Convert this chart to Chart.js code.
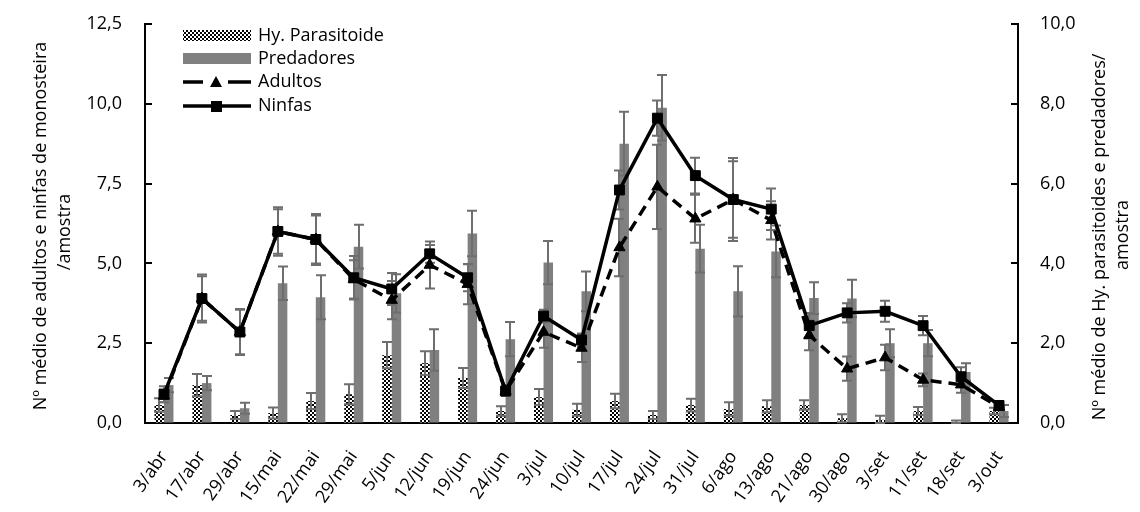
<!DOCTYPE html>
<html>
<head>
<meta charset="utf-8">
<script src="https://cdn.jsdelivr.net/npm/chart.js@4.4.1/dist/chart.umd.min.js"></script>
<style>
  html, body { margin: 0; padding: 0; background: #fff; }
  #wrap { width: 1140px; height: 512px; position: relative; }
</style>
</head>
<body>
<div id="wrap"><canvas id="c" width="1140" height="512"></canvas></div>
<script>
// Sampling dates
const categories = ['3/abr','17/abr','29/abr','15/mai','22/mai','29/mai','5/jun','12/jun','19/jun','24/jun','3/jul','10/jul','17/jul','24/jul','31/jul','6/ago','13/ago','21/ago','30/ago','3/set','11/set','18/set','3/out'];

// Monosteira per sample (left axis)
const ninfas     = [0.9, 3.9, 2.85, 6.0, 5.75, 4.55, 4.2, 5.3, 4.55, 1.0, 3.35, 2.6, 7.3, 9.55, 7.75, 7.0, 6.7, 3.05, 3.45, 3.5, 3.05, 1.45, 0.55];
const ninfasErr  = [0.25, 0.75, 0.72, 0.76, 0.8, 0.68, 0.5, 0.28, 0.42, 0.15, 0.2, 0.2, 0.61, 0.55, 0.56, 1.3, 0.65, 0.4, 0.3, 0.33, 0.3, 0.3, 0.1];
const adultos    = [0.85, 3.9, 2.85, 6.0, 5.75, 4.5, 3.85, 4.95, 4.35, 1.0, 2.85, 2.35, 5.5, 7.4, 6.4, 7.0, 6.35, 2.75, 1.7, 2.05, 1.35, 1.2, 0.5];
const adultosErr = [0.2, 0.7, 0.7, 0.7, 0.75, 0.6, 0.6, 0.74, 0.63, 0.15, 0.49, 0.44, 0.9, 1.32, 0.75, 1.2, 0.6, 0.47, 0.38, 0.4, 0.2, 0.25, 0.1];

// Natural enemies per sample (right axis)
const parasitoide    = [0.45, 0.95, 0.2, 0.25, 0.55, 0.72, 1.7, 1.5, 1.13, 0.3, 0.65, 0.33, 0.55, 0.2, 0.45, 0.35, 0.42, 0.45, 0.12, 0.08, 0.3, 0.03, 0.3];
const parasitoideErr = [0.17, 0.28, 0.1, 0.14, 0.2, 0.25, 0.33, 0.3, 0.25, 0.12, 0.2, 0.15, 0.18, 0.1, 0.16, 0.17, 0.15, 0.12, 0.1, 0.1, 0.1, 0.03, 0.08];
const predadores     = [0.95, 1.0, 0.37, 3.5, 3.15, 4.42, 3.25, 1.83, 4.75, 2.1, 4.02, 3.3, 7.0, 7.9, 4.37, 3.3, 4.3, 3.13, 3.12, 2.0, 2.0, 1.28, 0.3];
const predadoresErr  = [0.18, 0.18, 0.14, 0.42, 0.55, 0.55, 0.48, 0.52, 0.57, 0.43, 0.54, 0.5, 0.8, 0.82, 0.6, 0.63, 0.65, 0.4, 0.47, 0.35, 0.33, 0.22, 0.15];

// Axis ranges and titles
const leftTicks  = { min: 0, max: 12.5, step: 2.5 };
const rightTicks = { min: 0, max: 10, step: 2 };
const leftTitle  = ['Nº médio de adultos e ninfas de monosteira', '/amostra'];
const rightTitle = ['Nº médio de Hy. parasitoides e predadores/', 'amostra'];

const FONT = '"Open Sans", "Liberation Sans", sans-serif';
const FONT_SIZE = 18;

// checkerboard fill for the parasitoid bars
function makeChecker() {
  const c = document.createElement('canvas');
  c.width = 4; c.height = 4;
  const g = c.getContext('2d');
  g.fillStyle = '#fff'; g.fillRect(0, 0, 4, 4);
  g.fillStyle = '#000';
  g.fillRect(0, 0, 2, 2);
  g.fillRect(2, 2, 2, 2);
  return g.createPattern(c, 'repeat');
}
const checker = makeChecker();

const fmt = v => v.toFixed(1).replace('.', ',');

function drawErrors(chart, meta, errs) {
  const ctx = chart.ctx;
  const ds = chart.data.datasets[meta.index];
  const scale = chart.scales[meta.yAxisID];
  ctx.save();
  ctx.strokeStyle = '#6e6e6e';
  ctx.lineWidth = 2;
  meta.data.forEach((el, i) => {
    const v = ds.data[i], e = errs[i];
    if (v == null || e == null) return;
    const x = Math.round(el.x);
    const yT = scale.getPixelForValue(v + e);
    const yB = scale.getPixelForValue(Math.max(v - e, 0));
    ctx.beginPath();
    ctx.moveTo(x, yT); ctx.lineTo(x, yB);
    ctx.moveTo(x - 5, yT); ctx.lineTo(x + 5, yT);
    ctx.moveTo(x - 5, yB); ctx.lineTo(x + 5, yB);
    ctx.stroke();
  });
  ctx.restore();
}

const errorBars = {
  id: 'errorBars',
  afterDatasetDraw(chart, args) {
    const ds = chart.data.datasets[args.index];
    if (ds.type === 'bar') drawErrors(chart, args.meta, ds.errors);
  },
  beforeDatasetDraw(chart, args) {
    // line error bars sit under both line series
    if (chart.data.datasets[args.index].label === 'Adultos') {
      chart.data.datasets.forEach((d, i) => {
        if (d.type === 'line') drawErrors(chart, chart.getDatasetMeta(i), d.errors);
      });
    }
  }
};

const axisDecor = {
  id: 'axisDecor',
  afterDraw(chart) {
    const ctx = chart.ctx;
    const { y, y1 } = chart.scales;
    ctx.save();
    ctx.strokeStyle = '#000';
    ctx.lineWidth = 2;
    // inward tick marks
    y.ticks.forEach(t => {
      const p = Math.round(y.getPixelForValue(t.value));
      ctx.beginPath(); ctx.moveTo(y.right, p); ctx.lineTo(y.right + 7, p); ctx.stroke();
    });
    y1.ticks.forEach(t => {
      const p = Math.round(y1.getPixelForValue(t.value));
      ctx.beginPath(); ctx.moveTo(y1.left, p); ctx.lineTo(y1.left - 7, p); ctx.stroke();
    });
    // axis titles, both reading bottom to top
    ctx.fillStyle = '#000';
    ctx.font = FONT_SIZE + 'px ' + FONT;
    ctx.textAlign = 'center';
    ctx.textBaseline = 'middle';
    const drawV = (text, x, yc) => {
      ctx.save(); ctx.translate(x, yc); ctx.rotate(-Math.PI / 2);
      ctx.fillText(text, 0, 0); ctx.restore();
    };
    drawV(leftTitle[0], 41, 226);
    drawV(leftTitle[1], 65, 232);
    drawV(rightTitle[0], 1100, 237);
    drawV(rightTitle[1], 1123, 235);

    // legend
    const lx0 = 183, lx1 = 251, tx = 258;
    ctx.textAlign = 'left';
    ctx.fillStyle = checker;
    ctx.fillRect(lx0, 30, lx1 - lx0, 11);
    ctx.fillStyle = '#808080';
    ctx.fillRect(lx0, 53, lx1 - lx0, 11);
    ctx.strokeStyle = '#000';
    ctx.lineWidth = 3.5;
    ctx.beginPath(); ctx.moveTo(lx0, 82); ctx.lineTo(203, 82); ctx.moveTo(228, 82); ctx.lineTo(lx1, 82); ctx.stroke();
    ctx.fillStyle = '#000';
    ctx.beginPath(); ctx.moveTo(216, 76); ctx.lineTo(222, 87); ctx.lineTo(210, 87); ctx.closePath(); ctx.fill();
    ctx.beginPath(); ctx.moveTo(lx0, 106); ctx.lineTo(lx1, 106); ctx.stroke();
    ctx.fillRect(211, 101, 11, 11);
    const names = chart.data.datasets;
    const byLabel = l => names.find(d => d.label === l).label;
    ctx.fillText(byLabel('Hy. Parasitoide'), tx, 36);
    ctx.fillText(byLabel('Predadores'), tx, 59);
    ctx.fillText(byLabel('Adultos'), tx, 82);
    ctx.fillText(byLabel('Ninfas'), tx, 106);
    ctx.restore();
  }
};

// invisible tick marks keep the labels clear of the axis line
const hiddenTicks = { display: true, drawOnChartArea: false, drawTicks: true, tickLength: 13, tickColor: 'rgba(0,0,0,0)' };

new Chart(document.getElementById('c'), {
  type: 'bar',
  data: {
    labels: categories,
    datasets: [
      { type: 'line', label: 'Adultos', data: adultos, errors: adultosErr, yAxisID: 'y', order: 1,
        borderColor: '#000', borderWidth: 3.5, borderDash: [11, 7],
        pointStyle: 'triangle', pointRadius: 6.5, pointBorderWidth: 1,
        pointBackgroundColor: '#000', pointBorderColor: '#000', tension: 0 },
      { type: 'line', label: 'Ninfas', data: ninfas, errors: ninfasErr, yAxisID: 'y', order: 0,
        borderColor: '#000', borderWidth: 3.5,
        pointStyle: 'rect', pointRadius: 7, pointBorderWidth: 1,
        pointBackgroundColor: '#000', pointBorderColor: '#000', tension: 0 },
      { type: 'bar', label: 'Hy. Parasitoide', data: parasitoide, errors: parasitoideErr, yAxisID: 'y1', order: 2,
        backgroundColor: checker, categoryPercentage: 0.5, barPercentage: 1 },
      { type: 'bar', label: 'Predadores', data: predadores, errors: predadoresErr, yAxisID: 'y1', order: 3,
        backgroundColor: '#808080', categoryPercentage: 0.5, barPercentage: 1 }
    ]
  },
  options: {
    responsive: false,
    animation: false,
    events: [],
    layout: { padding: { top: 24, left: 0, right: 0, bottom: 0 } },
    plugins: { legend: { display: false }, tooltip: { enabled: false }, title: { display: false } },
    scales: {
      x: {
        offset: true,
        grid: { display: true, drawOnChartArea: false, drawTicks: false },
        border: { display: true, color: '#000', width: 2 },
        ticks: { color: '#000', font: { family: FONT, size: FONT_SIZE }, minRotation: 55, maxRotation: 55, autoSkip: false, padding: 24 },
        afterFit: s => { s.height = 89; }
      },
      y: {
        position: 'left',
        min: leftTicks.min, max: leftTicks.max,
        grid: hiddenTicks,
        border: { display: true, color: '#000', width: 2 },
        ticks: { stepSize: leftTicks.step, color: '#000', font: { family: FONT, size: FONT_SIZE }, padding: 10, callback: v => fmt(v) },
        afterFit: s => { s.width = 145; }
      },
      y1: {
        position: 'right',
        min: rightTicks.min, max: rightTicks.max,
        grid: hiddenTicks,
        border: { display: true, color: '#000', width: 2 },
        ticks: { stepSize: rightTicks.step, color: '#000', font: { family: FONT, size: FONT_SIZE }, padding: 9, callback: v => fmt(v) },
        afterFit: s => { s.width = 122; }
      }
    }
  },
  plugins: [errorBars, axisDecor]
});
</script>
</body>
</html>
